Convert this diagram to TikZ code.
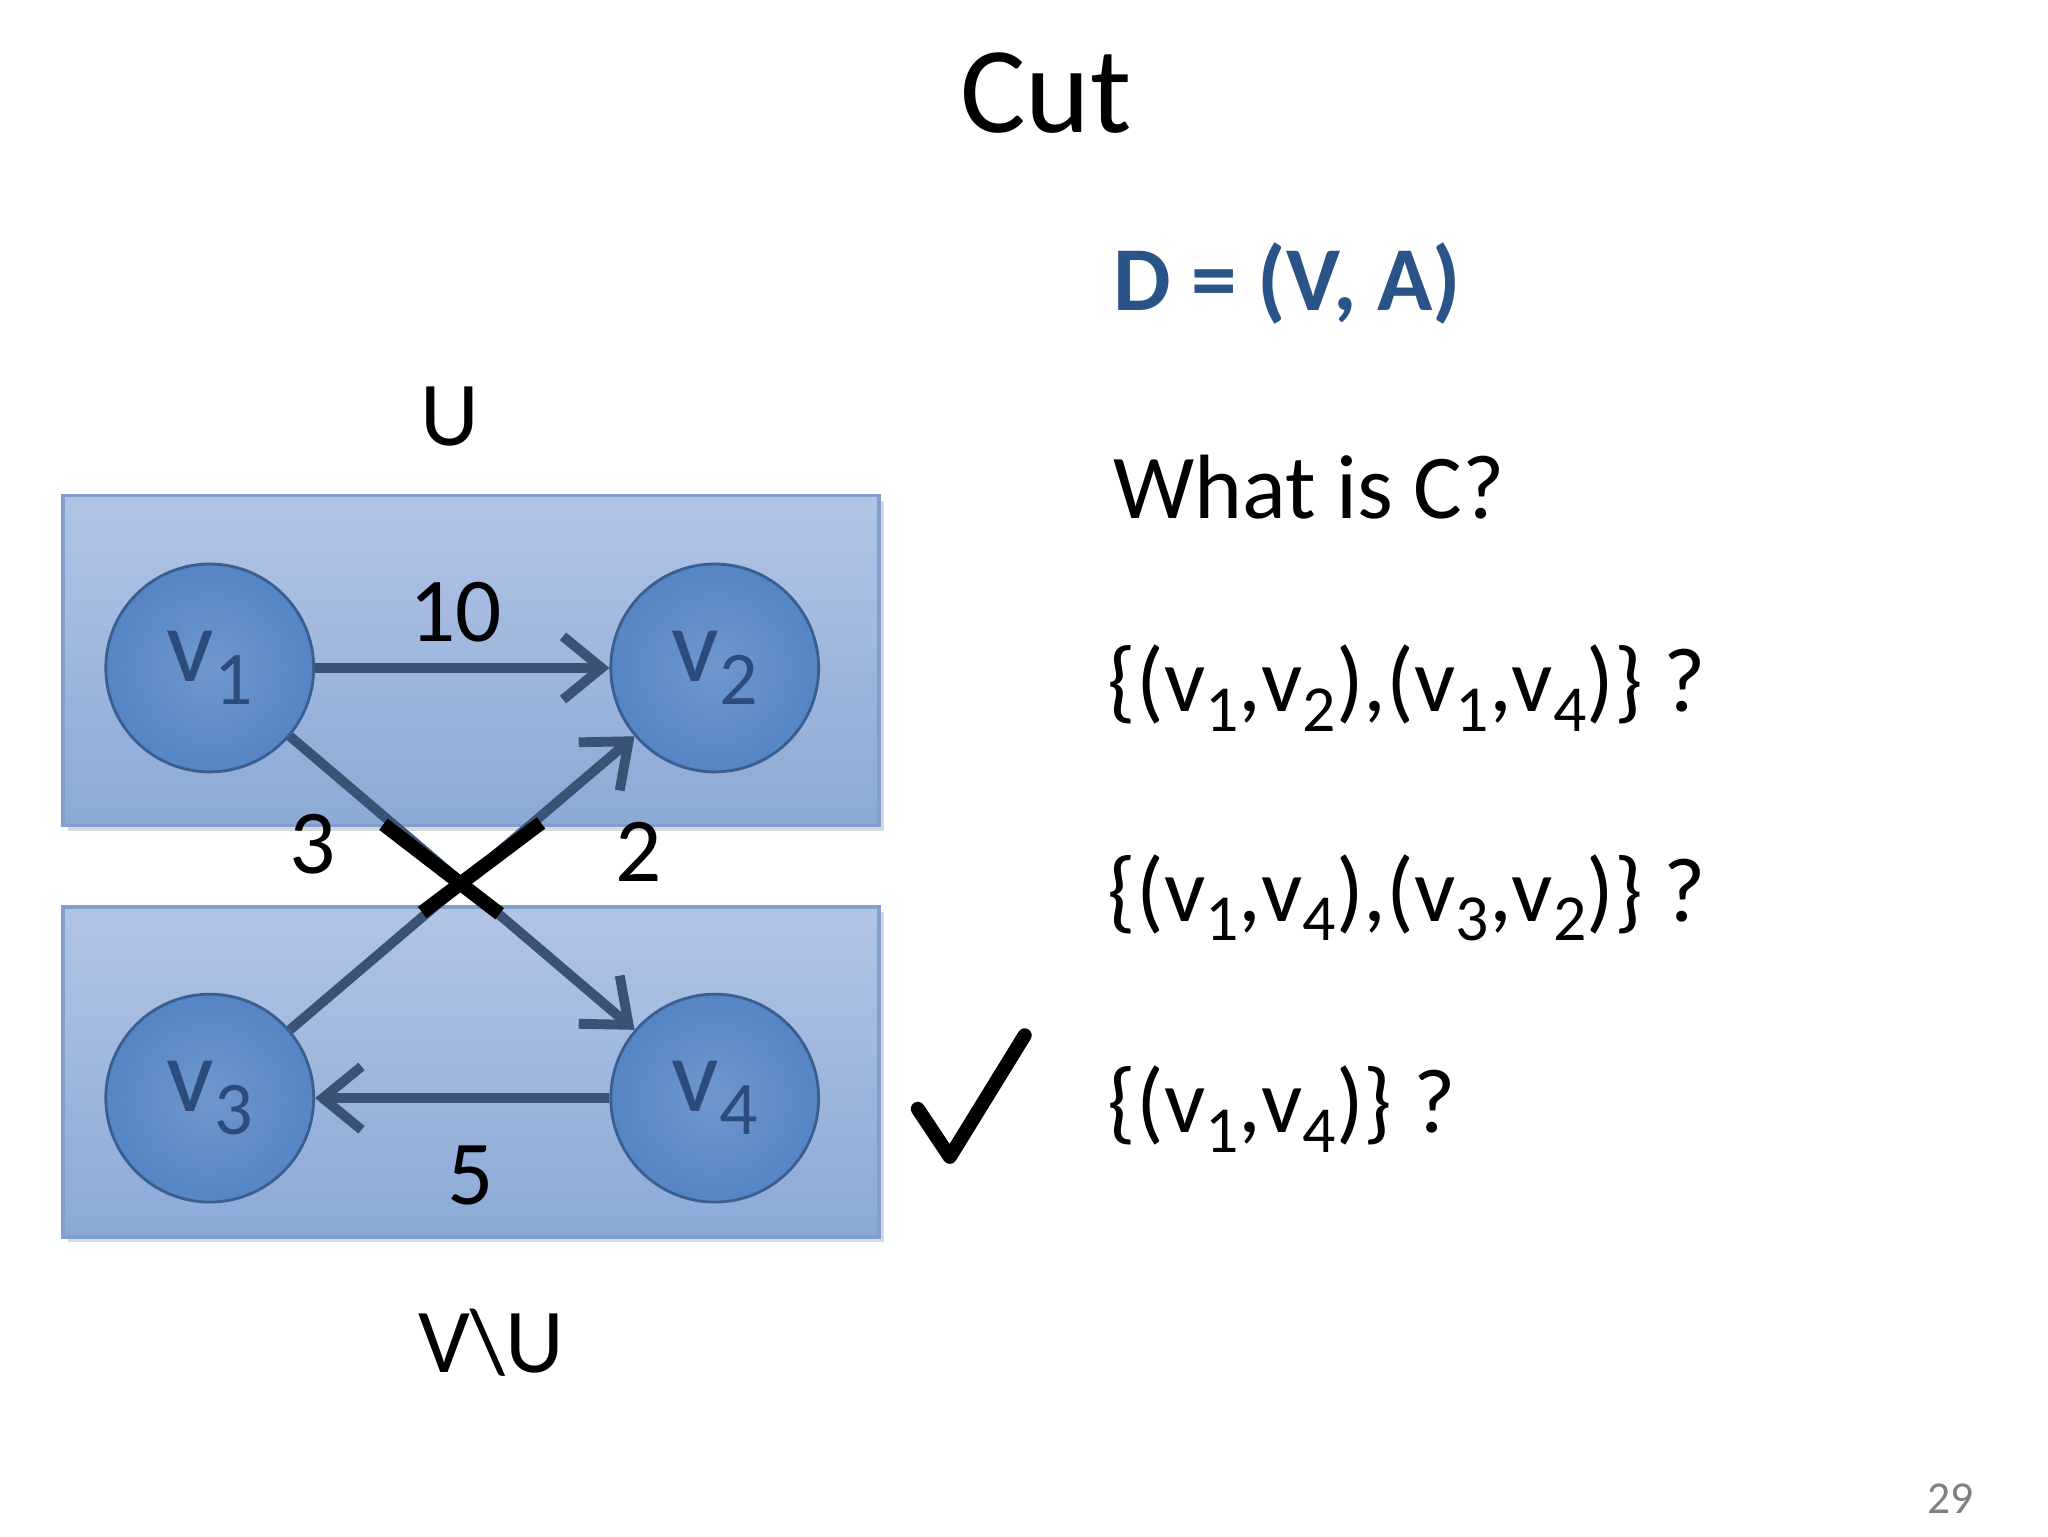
\documentclass[tikz,border=0pt]{standalone}
\usepackage{fontspec}
\setmainfont{Carlito}
\usetikzlibrary{arrows.meta}
\definecolor{boxtop}{HTML}{B2C4E6}
\definecolor{boxbot}{HTML}{8CA9D6}
\definecolor{boxline}{HTML}{7F9FCF}
\definecolor{nodefill}{HTML}{5585C4}
\definecolor{nodeline}{HTML}{3A5F8F}
\definecolor{nodetext}{HTML}{2C4C7C}
\definecolor{edgecol}{HTML}{3A5276}
\definecolor{titleblue}{HTML}{2A5488}
\tikzset{
  x=0.01336cm, y=-0.01336cm,
  setbox/.style={draw=boxline, line width=1pt, top color=boxtop, bottom color=boxbot},
  vnode/.style={circle, draw=nodeline, line width=0.8pt, inner color=nodefill!85!white, outer color=nodefill, minimum size=2.08cm, text=nodetext, font=\fontsize{30}{34}\selectfont},
  edge/.style={draw=edgecol, line width=2.8pt, -{Straight Barb[length=11pt,width=18pt,line width=2.8pt]}},
  cutline/.style={draw=black, line width=4pt},
  lbl/.style={font=\fontsize{26}{30}\selectfont},
  rtxt/.style={anchor=west, font=\fontsize{26}{30}\selectfont},
}
\newcommand{\mysub}[1]{\raisebox{-0.45ex}{\fontsize{0.72em}{1em}\selectfont #1}}
\begin{document}
\begin{tikzpicture}
\useasboundingbox[fill=white] (0,0) rectangle (1533,1150);
\node[font=\fontsize{35}{40}\selectfont] (title) at (783,70) {Cut};
\node[rtxt, text=titleblue, font=\bfseries\fontsize{26}{30}\selectfont] (D) at (824,212) {D = (V, A)};
\node[lbl] (U) at (337,312) {U};
\fill[gray!30] (51,375) rectangle (662,622);
\fill[gray!30] (51,683) rectangle (662,930);
\path[setbox] (47,371) rectangle (658,618);
\path[setbox] (47,679) rectangle (658,926);
\node[vnode] (v1) at (157,500) {v\mysub{1}};
\node[vnode] (v2) at (535,500) {v\mysub{2}};
\node[vnode] (v3) at (157,822) {v\mysub{3}};
\node[vnode] (v4) at (535,822) {v\mysub{4}};
\draw[edge] (v1) -- (v2);
\draw[edge] (v1) -- (v4);
\draw[edge] (v3) -- (v2);
\draw[edge] (v4) -- (v3);
\coordinate (a1) at (287,617); \coordinate (a2) at (374,684);
\coordinate (b1) at (316,683); \coordinate (b2) at (405,616);
\draw[cutline] (a1) -- (a2);
\draw[cutline] (b1) -- (b2);
\node[lbl] (w10) at (341,458) {10};
\node[lbl] (w3) at (234,632) {3};
\node[lbl] (w2) at (478,638) {2};
\node[lbl] (w5) at (352,880) {5};
\node[lbl] (VU) at (368,1005) {V\textbackslash U};
\coordinate (c1) at (687,830); \coordinate (c2) at (711,866); \coordinate (c3) at (767,775);
\draw[line width=4pt, line join=round, line cap=round] (c1) -- (c2) -- (c3);
\node[rtxt] (q) at (824,365) {What is C?};
\node[rtxt] (o1) at (820,515) {\{(v\mysub{1},v\mysub{2}),(v\mysub{1},v\mysub{4})\} ?};
\node[rtxt] (o2) at (820,672) {\{(v\mysub{1},v\mysub{4}),(v\mysub{3},v\mysub{2})\} ?};
\node[rtxt] (o3) at (820,830) {\{(v\mysub{1},v\mysub{4})\} ?};
\node[text=gray, font=\fontsize{13}{15}\selectfont] (pg) at (1460,1122) {29};
\end{tikzpicture}
\end{document}
